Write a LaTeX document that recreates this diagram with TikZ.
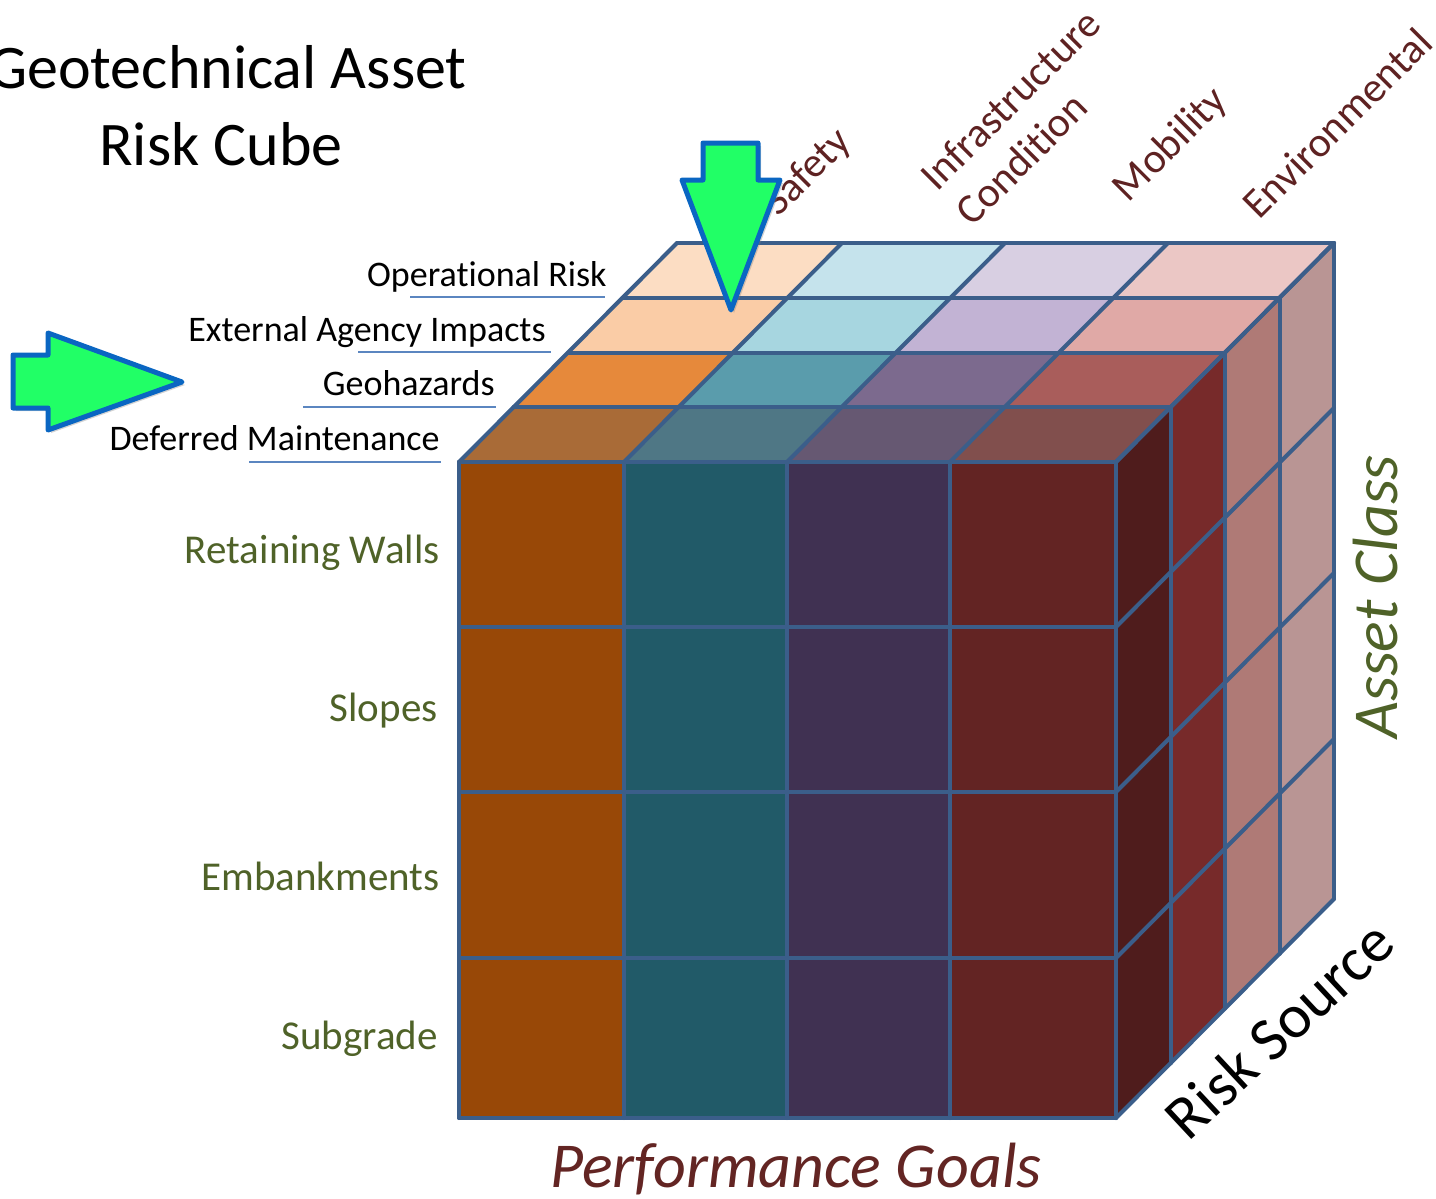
\documentclass[tikz,border=0pt]{standalone}
\usepackage{fontspec}
\setmainfont{Carlito}[Ligatures={NoCommon,NoRare}, Contextuals={NoAlternate}]
\usetikzlibrary{shadows}
\definecolor{edge}{HTML}{3B5E8A}
\definecolor{uline}{HTML}{5B86C0}
\definecolor{lgreen}{HTML}{4F6228}
\definecolor{dred}{HTML}{632523}
\definecolor{tred}{HTML}{5E2222}
\definecolor{agreen}{HTML}{21FF66}
\definecolor{ablue}{HTML}{0A66C2}
\definecolor{f0}{HTML}{984807}
\definecolor{f1}{HTML}{215A68}
\definecolor{f2}{HTML}{403152}
\definecolor{f3}{HTML}{632423}
\definecolor{s0}{HTML}{4F1C1C}
\definecolor{s1}{HTML}{772A2A}
\definecolor{s2}{HTML}{AF7A76}
\definecolor{s3}{HTML}{B99594}
\definecolor{t00}{HTML}{A96B37}
\definecolor{t01}{HTML}{4F7785}
\definecolor{t02}{HTML}{665872}
\definecolor{t03}{HTML}{814F4D}
\definecolor{t10}{HTML}{E6893B}
\definecolor{t11}{HTML}{5A9CAC}
\definecolor{t12}{HTML}{7C6A8E}
\definecolor{t13}{HTML}{A95D5B}
\definecolor{t20}{HTML}{FACCA6}
\definecolor{t21}{HTML}{A7D6E0}
\definecolor{t22}{HTML}{C2B3D4}
\definecolor{t23}{HTML}{E0A9A6}
\definecolor{t30}{HTML}{FCDDC3}
\definecolor{t31}{HTML}{C5E3EC}
\definecolor{t32}{HTML}{D8CFE2}
\definecolor{t33}{HTML}{EBC7C5}
\tikzset{
  gridline/.style={draw=edge, line width=2pt, line cap=round, line join=round},
  underl/.style={draw=uline, line width=1pt},
  rowlabel/.style={inner sep=0pt, anchor=base east, font=\fontsize{18}{22}\selectfont},
  classlabel/.style={inner sep=0pt, anchor=base east, text=lgreen, font=\fontsize{20.5}{25}\selectfont},
  goallabel/.style={inner sep=0pt, rotate=45, text=tred, font=\fontsize{21}{25}\selectfont},
  axislabel/.style={inner sep=0pt, font=\fontsize{32}{38}\selectfont},
  greenarrow/.style={fill=agreen, draw=ablue, line width=2.5pt, line join=round,
     drop shadow={shadow xshift=1.5pt, shadow yshift=-1.5pt, opacity=0.35}}
}
\begin{document}
\begin{tikzpicture}[x=0.5pt,y=-0.5pt]
\useasboundingbox (0,0) rectangle (1436,1199);
% top face cells and front face cells
\foreach \c/\xl/\xr in {0/459/624,1/624/787,2/787/950,3/950/1116}{
  \foreach \r in {0,1,2,3}{
    \fill[fill=t\r\c] ({\xl+\r*54.5},{462-\r*54.75}) -- ({\xr+\r*54.5},{462-\r*54.75})
      -- ({\xr+(\r+1)*54.5},{462-(\r+1)*54.75}) -- ({\xl+(\r+1)*54.5},{462-(\r+1)*54.75}) -- cycle;
  }
  \fill[fill=f\c] (\xl,462) rectangle (\xr,1118);
}
% side face cells
\foreach \l in {0,1,2,3}{
  \fill[fill=s\l] ({1116+\l*54.5},{462-\l*54.75}) -- ({1116+(\l+1)*54.5},{462-(\l+1)*54.75})
    -- ({1116+(\l+1)*54.5},{1118-(\l+1)*54.75}) -- ({1116+\l*54.5},{1118-\l*54.75}) -- cycle;
}
% grid lines
\foreach \x in {459,624,787,950,1116}{
  \draw[gridline] (\x,462) -- (\x,1118);
  \draw[gridline] (\x,462) -- ({\x+218},{462-219});
}
\foreach \y in {462,627,792,958,1118}{
  \draw[gridline] (459,\y) -- (1116,\y);
  \draw[gridline] (1116,\y) -- (1334,{\y-219});
}
\foreach \k in {0,1,2,3,4}{
  \draw[gridline] ({459+\k*54.5},{462-\k*54.75}) -- ({1116+\k*54.5},{462-\k*54.75});
  \draw[gridline] ({1116+\k*54.5},{462-\k*54.75}) -- ({1116+\k*54.5},{1118-\k*54.75});
}
% title
\node[inner sep=0pt, anchor=base east, font=\fontsize{31}{37}\selectfont] (title1) at (467,88) {Geotechnical Asset};
\node[inner sep=0pt, anchor=base, font=\fontsize{31}{37}\selectfont] (title2) at (221,165) {Risk Cube};
% risk source row labels
\node[rowlabel] (op) at (607,286) {Operational Risk};
\node[rowlabel] (ext) at (546,341) {External Agency Impacts};
\node[rowlabel] (geo) at (495,395) {Geohazards};
\node[rowlabel] (def) at (440,450) {Deferred Maintenance};
\draw[underl] (410,297) -- (605,297);
\draw[underl] (358,352) -- (551,352);
\draw[underl] (303,407) -- (496,407);
\draw[underl] (249,462) -- (441,462);
% asset class labels
\node[classlabel] (rw) at (440,563) {Retaining Walls};
\node[classlabel] (sl) at (438,721) {Slopes};
\node[classlabel] (em) at (440,890) {Embankments};
\node[classlabel] (sg) at (438,1049) {Subgrade};
% performance goal labels
\node[goallabel] (safety) at (808,173) {Safety};
\node[goallabel, align=left] (infra) at (1028,117) {Infrastructure\\Condition};
\node[goallabel] (mob) at (1171,145) {Mobility};
\node[goallabel] (env) at (1337,123) {Environmental};
% axis labels
\node[axislabel, anchor=base, text=dred, font=\fontsize{32}{38}\selectfont\itshape] (pg) at (796,1187) {Performance Goals};
\node[axislabel, rotate=90, text=lgreen, font=\fontsize{32}{38}\selectfont\itshape] (ac) at (1376,597) {Asset Class};
\node[axislabel, rotate=43, font=\fontsize{31}{37}\selectfont] (rs) at (1279,1029) {Risk Source};
% arrows
\path[greenarrow] (13,355) -- (48,355) -- (48,333) -- (182,382) -- (48,430) -- (48,408) -- (13,408) -- cycle;
\path[greenarrow] (703,143) -- (758,143) -- (758,180) -- (780,180) -- (731,310) -- (682,180) -- (703,180) -- cycle;
\end{tikzpicture}
\end{document}
